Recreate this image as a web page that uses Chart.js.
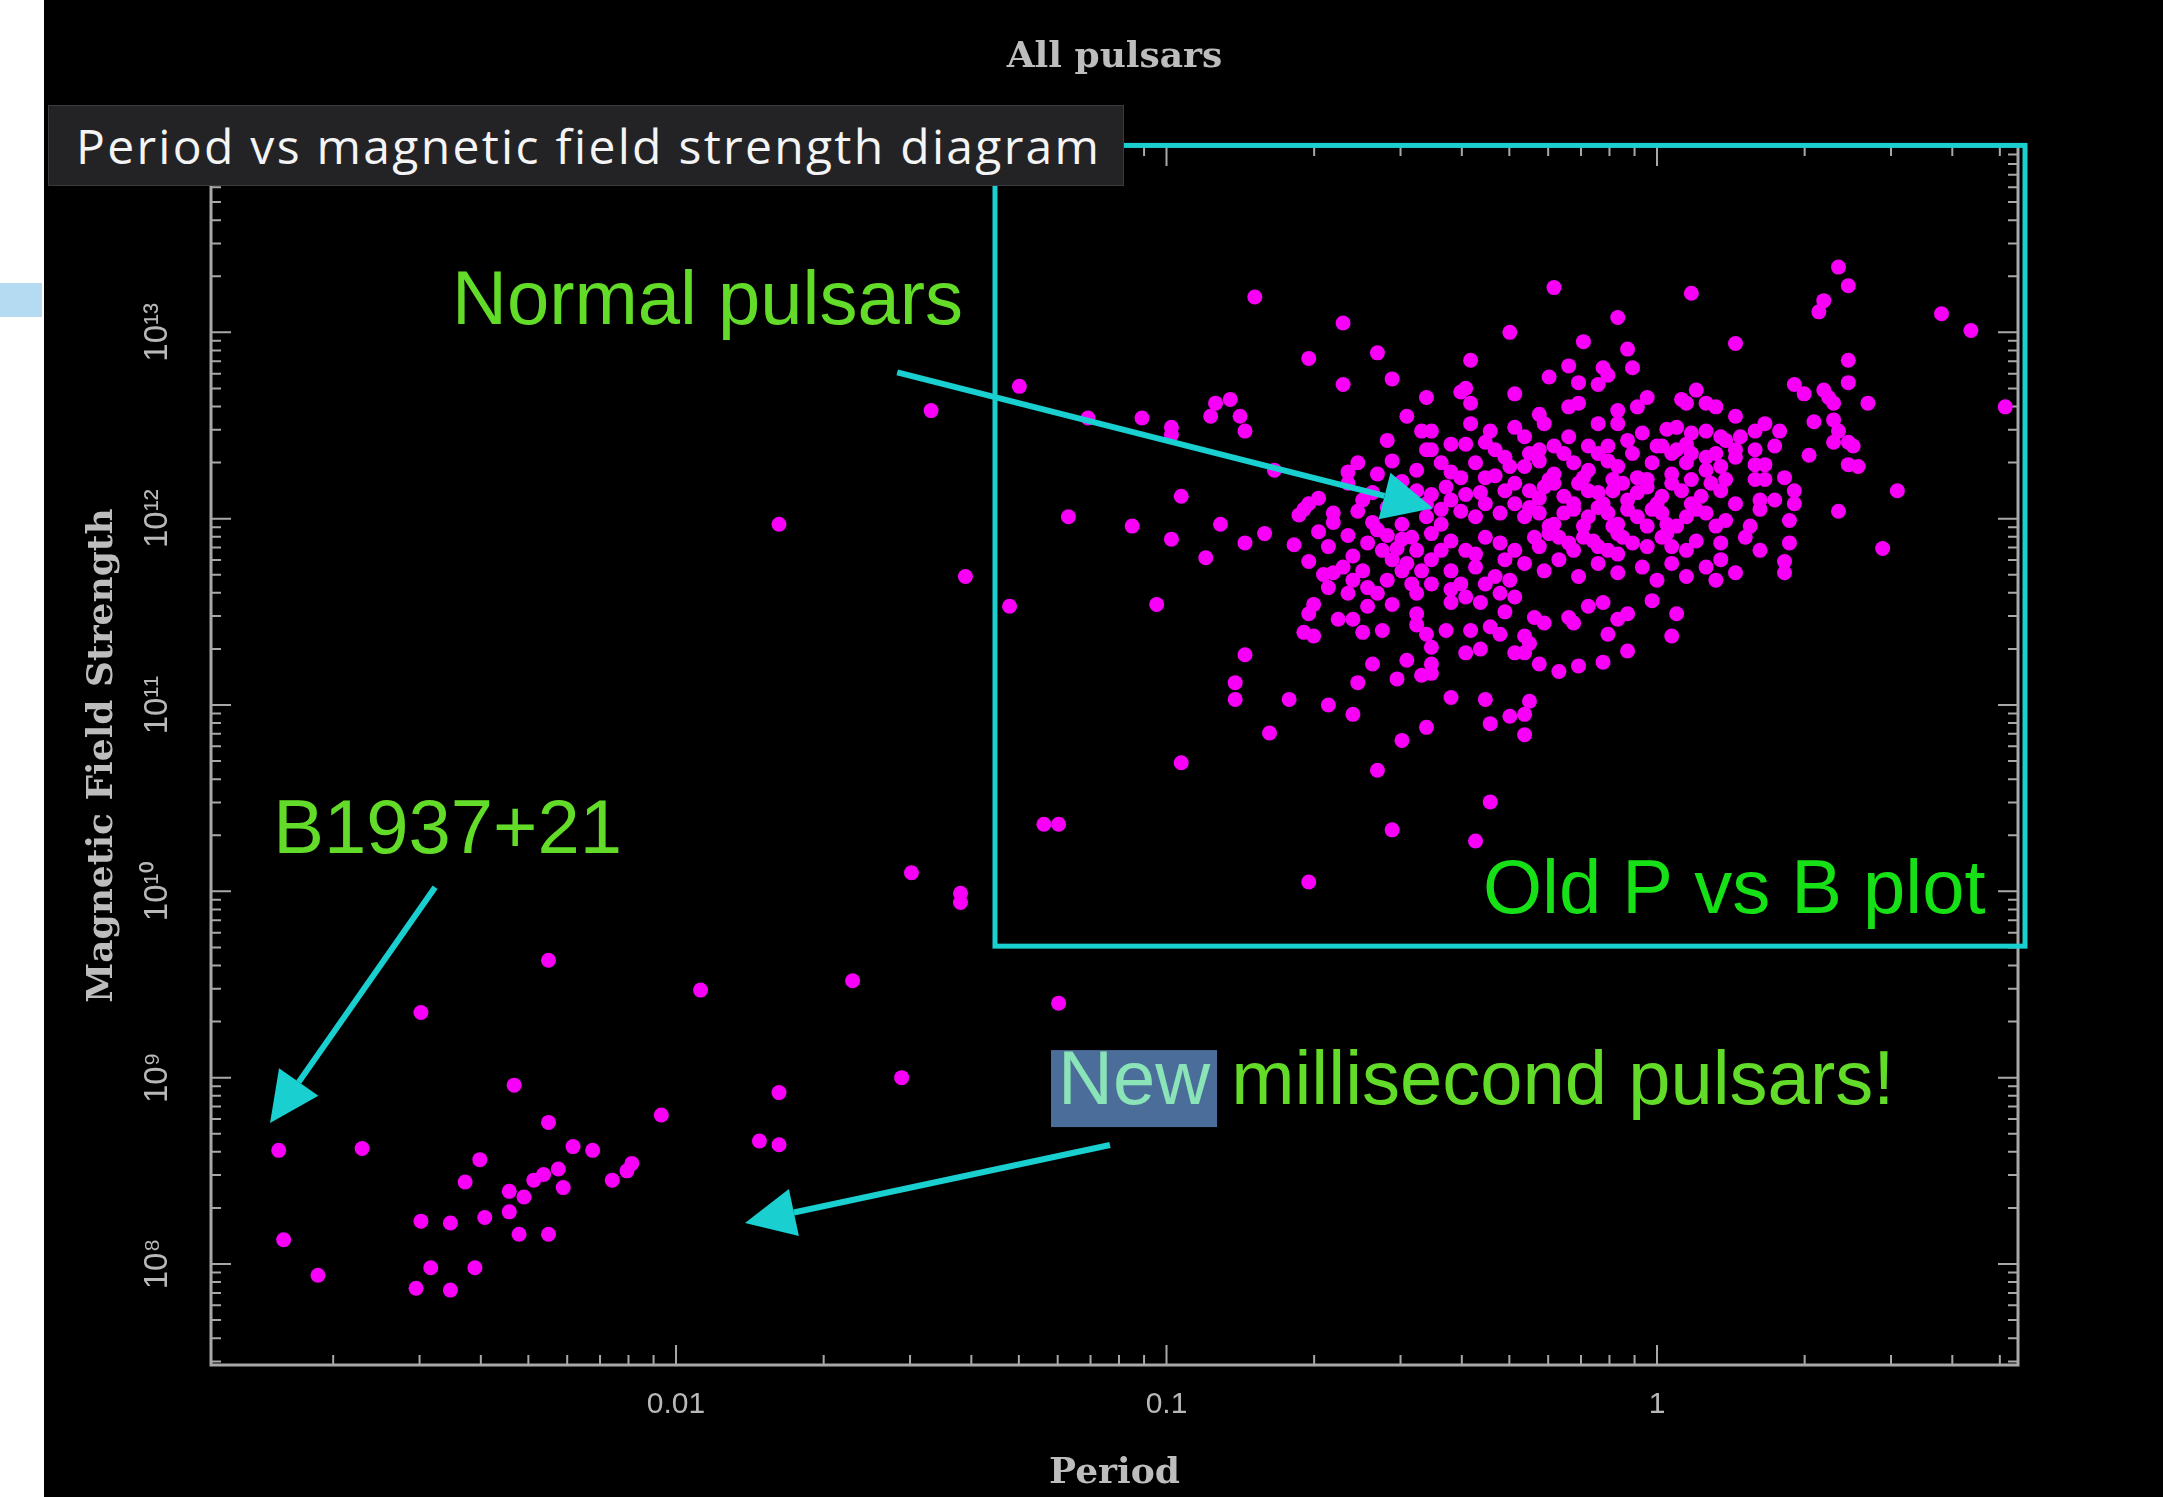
<!DOCTYPE html>
<html>
<head>
<meta charset="utf-8">
<title>All pulsars</title>
<script src="https://cdn.jsdelivr.net/npm/chart.js@4.4.1/dist/chart.umd.min.js"></script>
<style>
  html, body { margin: 0; padding: 0; background: #fff; }
  body { width: 2163px; height: 1497px; position: relative; overflow: hidden; }
  .tab { position: absolute; left: 0; top: 283px; width: 42px; height: 34px; background: #b5dbf3; }
  .slide { position: absolute; left: 44px; top: 0; width: 2119px; height: 1497px; background: #000; }
  .caption {
    position: absolute; left: 48px; top: 105px; width: 1076px; height: 81px; box-sizing: border-box;
    background: #232326; border: 1px solid #3b3b3f; color: #f4f4f4;
    font: 500 48px "Open Sans", sans-serif; letter-spacing: 2.3px; line-height: 79px;
    padding-left: 27px; white-space: nowrap;
  }
</style>
</head>
<body>
<div class="tab"></div>
<div class="slide"><canvas id="chart"></canvas></div>
<div class="caption">Period vs magnetic field strength diagram</div>
<script>
const CYAN = '#19cfcf';
const MAGENTA = '#f800f8';
const AXIS_GREY = '#a8a8a8';
const LABEL_GREEN = '#62dc28';
const OLD_PLOT_GREEN = '#16e016';

// axis ranges and labelled ticks
const periodRange = [0.001127, 5.445];
const fieldRange = [2.871e7, 1e14];
const periodTicks = [0.01, 0.1, 1];
const periodTickLabels = ['0.01', '0.1', '1'];
const fieldTicks = [1e8, 1e9, 1e10, 1e11, 1e12, 1e13];
const fieldTickLabels = ['10⁸', '10⁹', '10¹⁰', '10¹¹', '10¹²', '10¹³'];

// pulsars, as [log10 period (s), log10 field (G)]
const millisecondPulsars = [
  [-2.81, 8.61], [-2.80, 8.13], [-2.73, 7.94], [-2.64, 8.62], [-2.52, 9.35],
  [-2.26, 9.63], [-2.33, 8.96], [-2.26, 8.76], [-2.21, 8.63], [-2.17, 8.61],
  [-2.09, 8.54], [-2.10, 8.50], [-2.13, 8.45], [-2.23, 8.41], [-2.24, 8.51],
  [-2.27, 8.48], [-2.29, 8.45], [-2.34, 8.39], [-2.31, 8.36], [-2.40, 8.56],
  [-2.43, 8.44], [-2.34, 8.28], [-2.39, 8.25], [-2.46, 8.22], [-2.52, 8.23],
  [-2.32, 8.16], [-2.26, 8.16], [-2.50, 7.98], [-2.41, 7.98], [-2.53, 7.87],
  [-2.46, 7.86], [-2.03, 8.80], [-1.79, 8.92], [-1.83, 8.66], [-1.79, 8.64],
  [-1.54, 9.00], [-1.95, 9.47], [-1.64, 9.52], [-1.52, 10.10], [-1.42, 9.99],
  [-1.42, 9.94], [-1.25, 10.36], [-1.22, 10.36], [-1.22, 9.40],
];

const intermediatePulsars = [
  [-1.79, 11.97], [-1.48, 12.58], [-1.41, 11.69], [-1.32, 11.53], [-1.30, 12.71],
  [-1.02, 11.54], [-0.84, 11.27], [-0.86, 11.12], [-0.86, 11.03], [-0.75, 11.03],
  [-0.67, 11.00], [-0.62, 10.95], [-0.79, 10.85], [-0.97, 10.69], [-0.57, 10.65],
  [-0.34, 10.48], [-0.54, 10.33], [-0.37, 10.27], [-0.71, 10.05], [-0.52, 10.81],
  [-0.47, 10.88], [-0.42, 11.04], [-0.35, 11.03], [-0.34, 10.90], [-0.30, 10.94],
  [-0.61, 11.12], [-0.58, 11.22], [-0.53, 11.14],
];

const normalOutskirts = [
  [-0.82, 13.19], [-0.64, 13.05], [-0.71, 12.86], [-0.57, 12.89], [-0.64, 12.72],
  [-0.54, 12.75], [-0.30, 13.00], [-0.38, 12.85], [-0.21, 13.24], [0.07, 13.21],
  [-0.08, 13.08], [-0.15, 12.95], [-0.06, 12.91], [-0.05, 12.81], [0.16, 12.94],
  [0.37, 13.35], [0.39, 13.25], [0.34, 13.17], [0.33, 13.11], [0.58, 13.10],
  [0.64, 13.01], [0.39, 12.85], [0.39, 12.73], [0.43, 12.62], [0.71, 12.60],
  [0.28, 12.72], [0.30, 12.67], [0.34, 12.69], [0.35, 12.65], [0.36, 12.62],
  [0.32, 12.52], [0.36, 12.53], [0.37, 12.47], [0.36, 12.41], [0.39, 12.41],
  [0.40, 12.39], [0.31, 12.34], [0.39, 12.29], [0.41, 12.28], [0.49, 12.15],
  [0.37, 12.04], [0.46, 11.84], [-1.16, 12.54], [-1.05, 12.54], [-0.99, 12.49],
  [-0.99, 12.45], [-0.90, 12.62], [-0.87, 12.64], [-0.91, 12.55], [-0.85, 12.55],
  [-0.84, 12.47], [-0.78, 12.26], [-0.97, 12.12], [-1.20, 12.01], [-1.07, 11.96],
  [-0.99, 11.89], [-0.89, 11.97], [-0.84, 11.87], [-0.80, 11.92], [-0.92, 11.79],
  [-0.74, 11.86],
];

const normalCoreWest = [
  [-0.47, 12.65], [-0.51, 12.55], [-0.40, 12.68], [-0.39, 12.70], [-0.38, 12.62],
  [-0.29, 12.67], [-0.55, 12.42], [-0.54, 12.31], [-0.48, 12.47], [-0.46, 12.47],
  [-0.47, 12.37], [-0.49, 12.26], [-0.61, 12.30], [-0.63, 12.25], [-0.57, 12.24],
  [-0.38, 12.51], [-0.34, 12.47], [-0.35, 12.41], [-0.39, 12.40], [-0.33, 12.37],
  [-0.29, 12.49], [-0.44, 12.30], [-0.42, 12.25], [-0.40, 12.22], [-0.35, 12.22],
  [-0.33, 12.23], [-0.29, 12.19], [-0.63, 12.19], [-0.72, 12.05], [-0.71, 12.08],
  [-0.73, 12.02], [-0.66, 12.03], [-0.61, 12.04], [-0.71, 11.77], [-0.67, 11.85],
  [-0.63, 11.91], [-0.57, 11.94], [-0.55, 11.91], [-0.52, 11.89], [-0.56, 11.83],
  [-0.54, 11.78], [-0.59, 11.87], [-0.66, 11.71], [-0.64, 11.74], [-0.60, 11.72],
  [-0.55, 11.67], [-0.52, 11.72], [-0.50, 11.65], [-0.47, 12.01], [-0.46, 11.92],
  [-0.44, 11.97], [-0.46, 12.13], [-0.43, 12.17], [-0.40, 12.04], [-0.37, 12.01],
  [-0.35, 12.08], [-0.32, 12.03], [-0.29, 12.08], [-0.42, 11.88], [-0.39, 11.83],
  [-0.35, 11.90], [-0.32, 11.87], [-0.29, 11.83], [-0.46, 11.78], [-0.42, 11.72],
  [-0.37, 11.74], [-0.33, 11.69], [-0.30, 11.67], [-0.67, 11.63], [-0.63, 11.60],
  [-0.59, 11.63], [-0.49, 11.60], [-0.46, 11.65], [-0.42, 11.62], [-0.39, 11.58],
  [-0.35, 11.65], [-0.32, 11.60], [-0.29, 11.58], [-0.49, 12.15], [-0.52, 11.97],
  [-0.49, 11.83], [-0.39, 12.13], [-0.31, 12.15], [-0.48, 11.72], [-0.46, 12.37],
  [-0.42, 12.40], [-0.31, 12.33], [-0.47, 12.08], [-0.42, 12.10], [-0.36, 12.14],
  [-0.30, 12.28], [-0.44, 11.83], [-0.37, 11.81], [-0.31, 11.78], [-0.51, 11.76],
  [-0.40, 11.65], [-0.50, 11.90],
  [-0.69, 12.11], [-0.66, 11.98], [-0.62, 11.80], [-0.58, 11.98], [-0.60, 12.10],
  [-0.55, 12.06], [-0.69, 11.93], [-0.62, 11.67], [-0.57, 11.60], [-0.53, 11.84],
  [-0.68, 11.70], [-0.52, 12.20], [-0.58, 12.14], [-0.44, 12.05], [-0.37, 12.30],
];

const normalCoreSouth = [
  [-0.70, 11.54], [-0.71, 11.49], [-0.70, 11.37], [-0.72, 11.39], [-0.65, 11.46],
  [-0.62, 11.46], [-0.59, 11.53], [-0.60, 11.39], [-0.56, 11.40], [-0.54, 11.54],
  [-0.51, 11.24], [-0.49, 11.49], [-0.49, 11.43], [-0.47, 11.38], [-0.46, 11.31],
  [-0.46, 11.22], [-0.46, 11.17], [-0.48, 11.16], [-0.42, 11.55], [-0.43, 11.40],
  [-0.38, 11.40], [-0.39, 11.28], [-0.36, 11.30], [-0.36, 11.55], [-0.34, 11.42],
  [-0.31, 11.50], [-0.32, 11.38], [-0.29, 11.28],
  [-0.18, 11.47], [-0.17, 11.44], [-0.25, 11.47], [-0.23, 11.44], [-0.27, 11.37],
  [-0.26, 11.33], [-0.27, 11.28], [-0.24, 11.22], [-0.20, 11.18], [-0.16, 11.21],
  [-0.11, 11.23], [-0.10, 11.38], [-0.08, 11.46], [-0.06, 11.49], [-0.06, 11.29],
  [0.04, 11.49], [0.03, 11.37], [-0.26, 11.02], [-0.27, 10.95], [-0.27, 10.84],
  [-0.14, 11.53], [-0.11, 11.55], [-0.01, 11.56],
];

const normalCoreEast = [
  [-0.22, 12.76], [-0.18, 12.82], [-0.16, 12.73], [-0.12, 12.72], [-0.11, 12.81],
  [-0.10, 12.77], [-0.24, 12.56], [-0.23, 12.51], [-0.16, 12.62], [-0.18, 12.60],
  [-0.12, 12.51], [-0.08, 12.51], [-0.02, 12.65], [-0.04, 12.60], [-0.08, 12.58],
  [0.08, 12.69], [0.10, 12.62], [0.12, 12.60], [0.05, 12.64], [0.06, 12.62],
  [0.10, 12.47], [0.07, 12.46], [0.04, 12.49], [0.16, 12.55], [0.14, 12.42],
  [0.25, 12.47], [0.22, 12.51], [0.20, 12.47], [0.17, 12.44], [0.16, 12.37],
  [0.20, 12.37], [0.24, 12.39], [-0.03, 12.46], [0.00, 12.39], [0.02, 12.48],
  [0.04, 12.37], [0.07, 12.35], [0.10, 12.33], [0.13, 12.28], [0.16, 12.33],
  [0.20, 12.29], [0.22, 12.29], [0.26, 12.22], [0.28, 12.15], [0.28, 12.08],
  [0.27, 11.87], [0.26, 11.77], [0.26, 11.71], [0.27, 11.99], [0.24, 12.10],
  [0.21, 12.05], [0.20, 12.21], [0.22, 12.21],
  [-0.27, 12.44], [-0.24, 12.37], [-0.21, 12.39], [-0.18, 12.44], [-0.14, 12.39],
  [-0.10, 12.39], [-0.06, 12.42], [0.01, 12.39], [0.06, 12.40], [0.13, 12.44],
  [-0.27, 12.28], [-0.24, 12.31], [-0.21, 12.24], [-0.17, 12.30], [-0.14, 12.26],
  [-0.10, 12.31], [-0.08, 12.28], [-0.04, 12.22], [-0.01, 12.30], [0.03, 12.24],
  [0.06, 12.30], [0.10, 12.26], [0.14, 12.21],
  [-0.26, 12.15], [-0.23, 12.17], [-0.19, 12.12], [-0.16, 12.19], [-0.12, 12.14],
  [-0.09, 12.15], [-0.06, 12.10], [-0.02, 12.17], [0.01, 12.12], [0.05, 12.15],
  [0.09, 12.12], [0.13, 12.15], [0.16, 12.08], [0.21, 12.10],
  [-0.27, 12.01], [-0.24, 12.03], [-0.21, 11.97], [-0.17, 12.05], [-0.14, 12.01],
  [-0.10, 12.03], [-0.08, 11.97], [-0.04, 12.01], [-0.01, 12.05], [0.02, 11.97],
  [0.06, 12.01], [0.10, 12.03], [0.14, 11.99], [0.19, 11.96],
  [-0.25, 11.90], [-0.22, 11.92], [-0.18, 11.87], [-0.15, 11.90], [-0.12, 11.85],
  [-0.08, 11.92], [-0.05, 11.87], [0.01, 11.90], [0.03, 11.85], [0.08, 11.88],
  [0.13, 11.87], [0.18, 11.90], [0.21, 11.83],
  [-0.27, 11.76], [-0.23, 11.72], [-0.20, 11.78], [-0.16, 11.69], [-0.12, 11.76],
  [-0.08, 11.81], [-0.08, 11.71], [-0.03, 11.74], [0.00, 11.67], [0.03, 11.76],
  [0.06, 11.69], [0.10, 11.74], [0.13, 11.78], [0.16, 11.71], [0.12, 11.67],
  [-0.26, 12.35], [-0.22, 12.21], [-0.19, 12.35], [-0.15, 12.22], [-0.12, 12.35],
  [-0.09, 12.21], [-0.05, 12.35], [-0.02, 12.21], [0.03, 12.35], [0.07, 12.21],
  [0.12, 12.35],
  [-0.24, 12.11], [-0.21, 12.19], [-0.17, 12.08], [-0.14, 12.15], [-0.11, 12.08],
  [-0.07, 12.19], [-0.04, 12.14], [0.00, 12.08], [0.03, 12.19], [0.07, 12.08],
  [0.11, 12.19],
  [-0.26, 12.06], [-0.22, 11.96], [-0.19, 12.03], [-0.15, 11.96], [-0.12, 12.06],
  [-0.09, 11.96], [-0.06, 12.05], [-0.02, 11.96], [0.01, 12.03], [0.04, 11.96],
  [0.08, 12.05], [0.12, 11.96],
  [-0.24, 11.85], [-0.20, 11.90], [-0.17, 11.83], [-0.13, 11.88], [-0.10, 11.83],
  [-0.07, 11.90], [-0.02, 11.85], [0.02, 11.92], [0.06, 11.83],
];

// slide annotations, in data units (period s, field G)
const oldPlotBox = { period: [0.0447, 5.627], field: [5.08e9, 1.0075e14] };
const arrows = [
  { from: [0.02825, 6.10e12], to: [0.3494, 1.138e12] },
  { from: [0.003227, 1.053e10], to: [0.001487, 5.707e8] },
  { from: [0.07669, 4.35e8], to: [0.013823, 1.66e8] },
];
const slideLabels = [
  { text: 'Normal pulsars', period: 0.003494, field: 1.104e13, color: LABEL_GREEN },
  { text: 'B1937+21', period: 0.00151, field: 1.603e10, color: LABEL_GREEN },
  { text: 'Old P vs B plot', period: 0.4418, field: 7.64e9, color: OLD_PLOT_GREEN },
  { text: 'New millisecond pulsars!', period: 0.06009, field: 7.217e8, color: LABEL_GREEN, highlight: 'New' },
];

const toPoints = (list) => list.map(([lp, lb]) => ({ x: 10 ** lp, y: 10 ** lb }));

// 1..9 x 10^n tick marks, labelled where they hit one of the listed values
function logTicks(min, max, labelled) {
  const ticks = [];
  for (let e = Math.floor(Math.log10(min)); e <= Math.ceil(Math.log10(max)); e++) {
    for (let m = 1; m < 10; m++) {
      const value = m * Math.pow(10, e);
      if (value < min || value > max) continue;
      const labelIndex = labelled.findIndex((t) => Math.abs(Math.log10(t) - Math.log10(value)) < 1e-6);
      ticks.push({ value, major: m === 1, labelIndex });
    }
  }
  return ticks;
}

const framePlugin = {
  id: 'pgplotFrame',
  beforeDatasetsDraw(chart) {
    const { ctx, chartArea: a, scales: { x, y } } = chart;
    ctx.save();
    ctx.strokeStyle = AXIS_GREY;
    ctx.lineWidth = 3;
    ctx.strokeRect(a.left, a.top, a.right - a.left, a.bottom - a.top);
    ctx.lineWidth = 2;
    ctx.beginPath();
    x.ticks.forEach((t) => {
      const px = x.getPixelForValue(t.value);
      const len = t.major ? 20 : 10;
      ctx.moveTo(px, a.bottom); ctx.lineTo(px, a.bottom - len);
      ctx.moveTo(px, a.top); ctx.lineTo(px, a.top + len);
    });
    y.ticks.forEach((t) => {
      const py = y.getPixelForValue(t.value);
      const len = t.major ? 20 : 10;
      ctx.moveTo(a.left, py); ctx.lineTo(a.left + len, py);
      ctx.moveTo(a.right, py); ctx.lineTo(a.right - len, py);
    });
    ctx.stroke();
    ctx.restore();
  },
};

function drawArrow(ctx, x0, y0, x1, y1) {
  const ang = Math.atan2(y1 - y0, x1 - x0);
  const head = 50;
  const half = 24;
  const bx = x1 - head * Math.cos(ang);
  const by = y1 - head * Math.sin(ang);
  ctx.beginPath();
  ctx.moveTo(x0, y0);
  ctx.lineTo(bx, by);
  ctx.stroke();
  ctx.beginPath();
  ctx.moveTo(x1, y1);
  ctx.lineTo(bx + half * Math.sin(ang), by - half * Math.cos(ang));
  ctx.lineTo(bx - half * Math.sin(ang), by + half * Math.cos(ang));
  ctx.closePath();
  ctx.fill();
}

const annotationPlugin = {
  id: 'slideAnnotations',
  afterDatasetsDraw(chart) {
    const { ctx, scales: { x, y } } = chart;
    ctx.save();
    ctx.strokeStyle = CYAN;
    ctx.fillStyle = CYAN;
    ctx.lineWidth = 5;
    const bl = x.getPixelForValue(oldPlotBox.period[0]);
    const br = x.getPixelForValue(oldPlotBox.period[1]);
    const bt = y.getPixelForValue(oldPlotBox.field[1]);
    const bb = y.getPixelForValue(oldPlotBox.field[0]);
    ctx.strokeRect(bl, bt, br - bl, bb - bt);

    ctx.lineWidth = 6;
    arrows.forEach((a) => {
      drawArrow(ctx,
        x.getPixelForValue(a.from[0]), y.getPixelForValue(a.from[1]),
        x.getPixelForValue(a.to[0]), y.getPixelForValue(a.to[1]));
    });

    ctx.font = '76px "Liberation Sans", Arial, sans-serif';
    ctx.textAlign = 'left';
    ctx.textBaseline = 'alphabetic';
    slideLabels.forEach((l) => {
      const px = x.getPixelForValue(l.period);
      const py = y.getPixelForValue(l.field);
      let text = l.text;
      let tx = px;
      if (l.highlight) {
        const w = ctx.measureText(l.highlight).width;
        ctx.fillStyle = '#4b6d99';
        ctx.fillRect(px - 7, py - 54, w + 14, 77);
        ctx.fillStyle = '#8be3b8';
        ctx.fillText(l.highlight, px, py);
        text = l.text.slice(l.highlight.length);
        tx = px + w;
      }
      ctx.fillStyle = l.color;
      ctx.fillText(text, tx, py);
    });
    ctx.restore();
  },
};

const pointStyle = {
  backgroundColor: MAGENTA,
  borderWidth: 0,
  pointRadius: 7.5,
  pointHoverRadius: 7.5,
};

new Chart(document.getElementById('chart'), {
  type: 'scatter',
  data: {
    datasets: [
      { label: 'Millisecond pulsars', data: toPoints(millisecondPulsars), ...pointStyle },
      { label: 'Intermediate', data: toPoints(intermediatePulsars), ...pointStyle },
      { label: 'Normal (outskirts)', data: toPoints(normalOutskirts), ...pointStyle },
      { label: 'Normal (west core)', data: toPoints(normalCoreWest), ...pointStyle },
      { label: 'Normal (south core)', data: toPoints(normalCoreSouth), ...pointStyle },
      { label: 'Normal (east core)', data: toPoints(normalCoreEast), ...pointStyle },
    ],
  },
  options: {
    responsive: true,
    maintainAspectRatio: false,
    devicePixelRatio: 1,
    animation: false,
    events: [],
    layout: { padding: { left: 0, right: 145, top: 0, bottom: 0 } },
    plugins: {
      legend: { display: false },
      tooltip: { enabled: false },
      title: {
        display: true,
        text: 'All pulsars',
        fullSize: false,
        color: '#bdbdbd',
        font: { family: '"DejaVu Serif", serif', size: 36, weight: 'bold', lineHeight: 1.2 },
        padding: { top: 36.4, bottom: 66.4 },
      },
    },
    scales: {
      x: {
        type: 'logarithmic',
        min: periodRange[0],
        max: periodRange[1],
        grid: { display: false, drawTicks: false },
        border: { display: false },
        afterBuildTicks: (scale) => { scale.ticks = logTicks(scale.min, scale.max, periodTicks); },
        afterFit: (scale) => { scale.height = 132; },
        ticks: {
          autoSkip: false,
          maxRotation: 0,
          minRotation: 0,
          padding: 22,
          color: '#b8b8b8',
          font: { family: '"Liberation Sans", Arial, sans-serif', size: 30 },
          callback: (value, index, ticks) => {
            const t = ticks[index];
            return t.labelIndex >= 0 ? periodTickLabels[t.labelIndex] : '';
          },
        },
        title: {
          display: true,
          text: 'Period',
          color: '#bdbdbd',
          font: { family: '"DejaVu Serif", serif', size: 36, weight: 'bold', lineHeight: 1.2 },
          padding: { top: 0, bottom: 2 },
        },
      },
      y: {
        type: 'logarithmic',
        min: fieldRange[0],
        max: fieldRange[1],
        grid: { display: false, drawTicks: false },
        border: { display: false },
        afterBuildTicks: (scale) => { scale.ticks = logTicks(scale.min, scale.max, fieldTicks); },
        afterFit: (scale) => { scale.width = 167; },
        ticks: {
          autoSkip: false,
          minRotation: 90,
          maxRotation: 90,
          crossAlign: 'center',
          padding: 23,
          color: '#b8b8b8',
          font: { family: '"Liberation Sans", Arial, sans-serif', size: 33 },
          callback: (value, index, ticks) => {
            const t = ticks[index];
            return t.labelIndex >= 0 ? fieldTickLabels[t.labelIndex] : '';
          },
        },
        title: {
          display: true,
          text: 'Magnetic Field Strength',
          color: '#bdbdbd',
          font: { family: '"DejaVu Serif", serif', size: 36, weight: 'bold', lineHeight: 1.2 },
          padding: { top: 37.4, bottom: 0 },
        },
      },
    },
  },
  plugins: [framePlugin, annotationPlugin],
});
</script>
</body>
</html>
